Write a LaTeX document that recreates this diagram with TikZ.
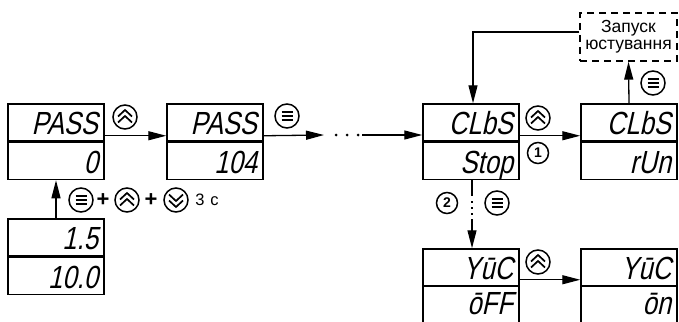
\documentclass[tikz,border=0pt]{standalone}
\usepackage{fontspec}
\setmainfont{Liberation Sans}
\newfontfamily\segfont[FakeSlant=0.22,FakeStretch=0.8]{Liberation Sans}
\usetikzlibrary{arrows.meta,calc}
\begin{document}
\begin{tikzpicture}[x=1pt,y=-1pt,
  segtext/.style={text width=84pt, align=right,
    inner xsep=6pt, inner ysep=6.5pt, text height=24pt, text depth=0pt,
    font=\segfont\fontsize{32}{32}\selectfont},
  seg/.style={segtext, draw, line width=1.5pt},
  segcut/.style={segtext, inner ysep=3.5pt},
  open/.style={line width=1.5pt},
  arr/.style={line width=1.3pt, -{Triangle[length=18pt,width=9pt]}},
  btn/.style={circle, draw, line width=1.5pt, minimum size=24pt, inner sep=0pt},
  menubtn/.style={btn, path picture={
    \foreach \d in {-3.8,0,3.8}{
      \draw[line width=1.5pt] ([shift={(-5.5pt,\d pt)}]path picture bounding box.center)
        -- ([shift={(5.5pt,\d pt)}]path picture bounding box.center);}}},
  upbtn/.style={btn, path picture={
    \draw[line width=1.7pt] ([shift={(-7pt,0.5pt)}]path picture bounding box.center)
      -- ([shift={(0pt,7pt)}]path picture bounding box.center)
      -- ([shift={(7pt,0.5pt)}]path picture bounding box.center);
    \draw[line width=1.7pt] ([shift={(-7pt,-5.5pt)}]path picture bounding box.center)
      -- ([shift={(0pt,1pt)}]path picture bounding box.center)
      -- ([shift={(7pt,-5.5pt)}]path picture bounding box.center);}},
  downbtn/.style={btn, path picture={
    \draw[line width=1.7pt] ([shift={(-7pt,-0.5pt)}]path picture bounding box.center)
      -- ([shift={(0pt,-7pt)}]path picture bounding box.center)
      -- ([shift={(7pt,-0.5pt)}]path picture bounding box.center);
    \draw[line width=1.7pt] ([shift={(-7pt,5.5pt)}]path picture bounding box.center)
      -- ([shift={(0pt,-1pt)}]path picture bounding box.center)
      -- ([shift={(7pt,5.5pt)}]path picture bounding box.center);}},
  numbtn/.style={circle, draw, line width=1.5pt, minimum size=21pt, inner sep=0pt,
    font=\bfseries\fontsize{14}{14}\selectfont},
  plussign/.style={inner sep=0pt, font=\bfseries\fontsize{22}{22}\selectfont},
  lbl/.style={inner sep=0pt, font=\fontsize{16.5}{16.5}\selectfont},
]
\fill[white] (0,0) rectangle (679,321);
\useasboundingbox (0,0) rectangle (679,321);
\clip (0,0) rectangle (679,321);

% displays
\node[seg] (A1) at (56,122.5) {PASS};
\node[seg,anchor=north] (A2) at (A1.south) {0};
\node[seg] (B1) at (215,122.5) {PASS};
\node[seg,anchor=north] (B2) at (B1.south) {104};
\node[seg] (C1) at (56,237.5) {1.5};
\node[seg,anchor=north] (C2) at (C1.south) {10.0};
\node[seg] (D1) at (471,122.5) {CLbS};
\node[seg,anchor=north] (D2) at (D1.south) {Stop};
\node[seg] (E1) at (629,122.5) {CLbS};
\node[seg,anchor=north] (E2) at (E1.south) {rUn};
\node[seg] (F1) at (471,267.5) {YūC};
\node[segcut,anchor=north] (F2) at (F1.south) {ōFF};
\node[seg] (G1) at (629,267.5) {YūC};
\node[segcut,anchor=north] (G2) at (G1.south) {ōn};
\draw[open] ([yshift=-10pt]F2.south west) -- (F2.north west);
\draw[open] ([yshift=-10pt]F2.south east) -- (F2.north east);
\draw[open] ([yshift=-10pt]G2.south west) -- (G2.north west);
\draw[open] ([yshift=-10pt]G2.south east) -- (G2.north east);

% dashed box
\node[draw, line width=1.3pt, dash pattern=on 7pt off 5pt, minimum width=97pt,
  minimum height=48pt, align=center, inner sep=0pt,
  font=\fontsize{17.5}{17}\selectfont] (Z) at (628.5,37) {Запуск\\юстування};

% connectors
\coordinate (dA) at (324,135);
\coordinate (dB) at (362,135);
\draw[arr] ([yshift=6pt]A1.south east) -- ([yshift=6pt]B1.south west);
\draw[arr] ([yshift=6pt]B1.south east) -- (dA);
\foreach \x in {336,347,358} \fill (\x,135) circle (1.5);
\draw[arr] (dB) -- (dB -| D1.west);
\draw[arr] ([yshift=6pt]D1.south east) -- ([yshift=6pt]E1.south west);
\draw[arr] (C1.north) -- (A2.south);
\draw[arr] (E1.north) -- (Z.south);
\draw[arr] ([yshift=5pt]Z.west) -| ([xshift=2pt]D1.north);
\draw[arr, dash pattern=on 16pt off 5pt on 1.5pt off 4.5pt on 1.5pt off 4.5pt on 1.5pt off 4.5pt on 60pt]
  ([xshift=1pt]D2.south) -- ([xshift=1pt]F1.north);
\draw[arr] ([yshift=7pt]F1.south east) -- ([yshift=7pt]G1.south west);

% button labels
\node[upbtn] (u1) at (125,117) {};
\node[menubtn] (m1) at (287,116) {};
\node[upbtn] (u2) at (538,118) {};
\node[numbtn] (n1) at (538,153) {1};
\node[menubtn] (m2) at (653,83) {};
\node[numbtn] (n2) at (447,203) {2};
\node[menubtn] (m3) at (497,203) {};
\node[upbtn] (u3) at (538,262) {};
\node[menubtn] (m4) at (81,200) {};
\node[plussign] (p1) at (103,200) {+};
\node[upbtn] (u4) at (127,200) {};
\node[plussign] (p2) at (151,200) {+};
\node[downbtn] (dn) at (176,200) {};
\node[lbl] (t3) at (207,200) {3\hspace{6pt}c};
\end{tikzpicture}
\end{document}
